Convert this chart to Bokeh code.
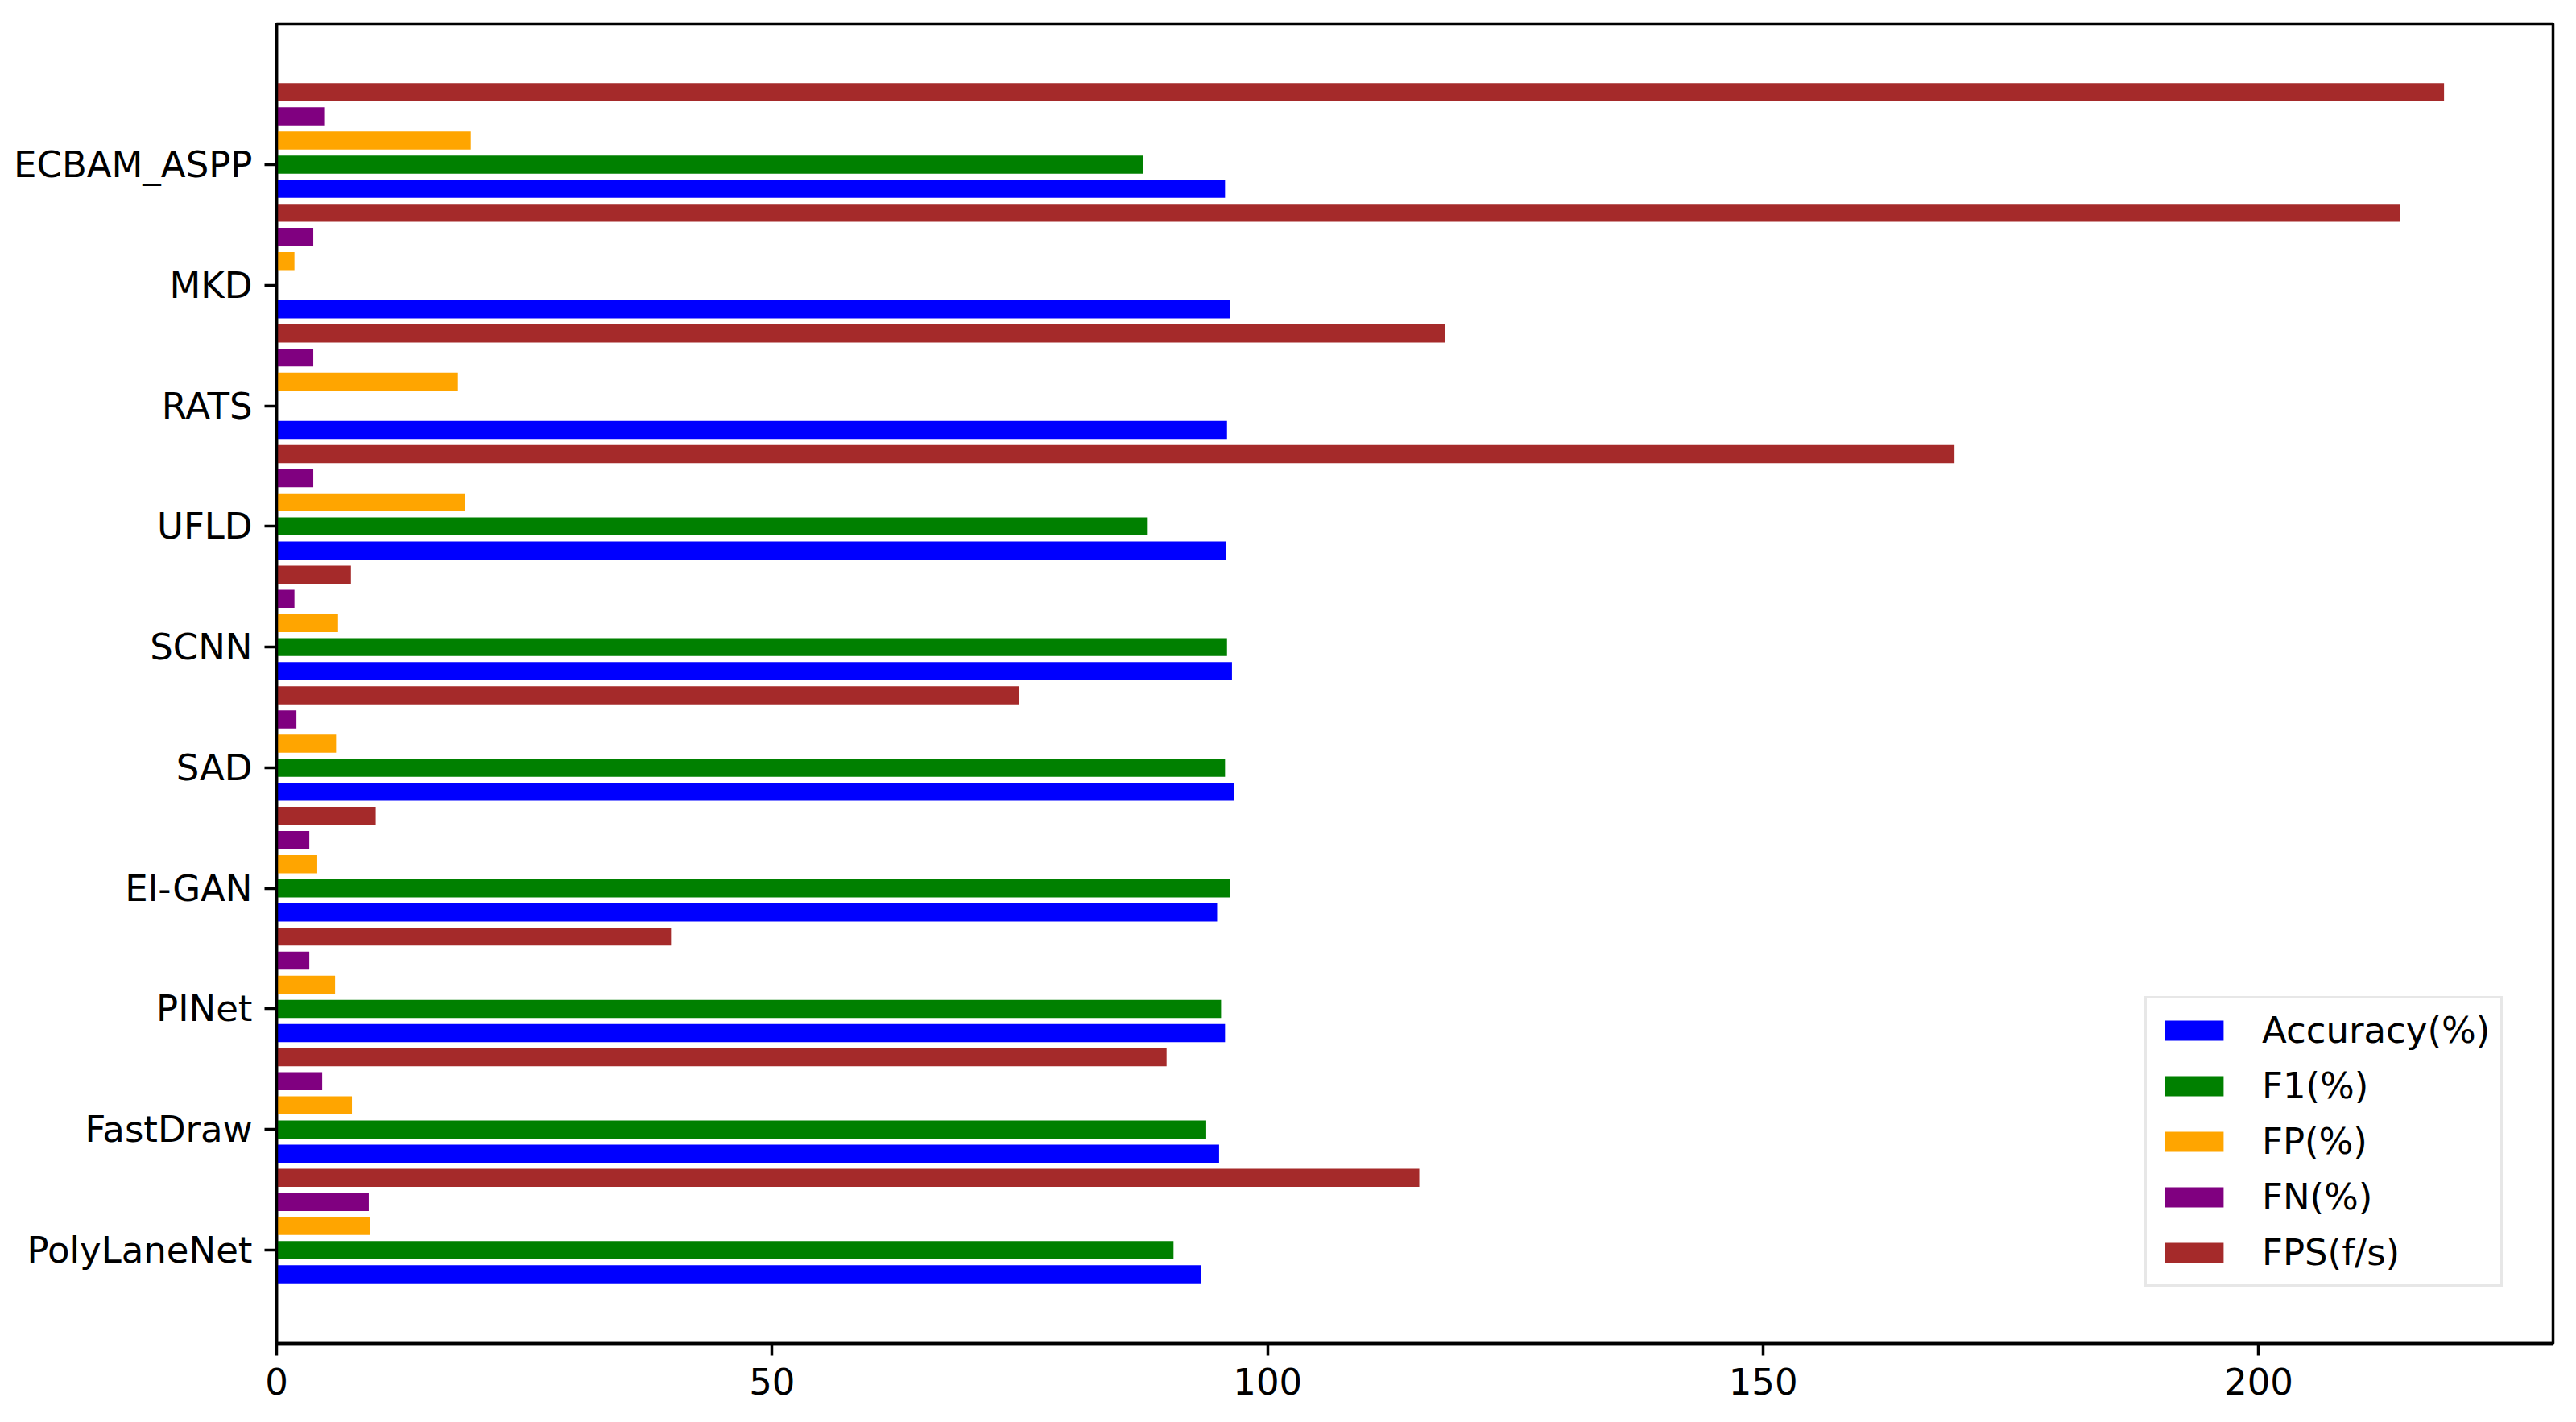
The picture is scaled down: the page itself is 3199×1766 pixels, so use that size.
from bokeh.plotting import figure
from bokeh.models import ColumnDataSource, FixedTicker, Legend, LegendItem
from bokeh.embed import file_html
from bokeh.resources import INLINE

methods = ["PolyLaneNet", "FastDraw", "PINet", "El-GAN", "SAD", "SCNN", "UFLD", "RATS", "MKD", "ECBAM_ASPP"]
accuracy = [93.3, 95.1, 95.7, 94.9, 96.6, 96.4, 95.8, 95.9, 96.2, 95.7]
f1 = [90.5, 93.8, 95.3, 96.2, 95.7, 95.9, 87.9, 0, 0, 87.4]
fp = [9.4, 7.6, 5.9, 4.1, 6.0, 6.2, 19.0, 18.3, 1.8, 19.6]
fn = [9.3, 4.6, 3.3, 3.3, 2.0, 1.8, 3.7, 3.7, 3.7, 4.8]
fps = [115.3, 89.8, 39.8, 10.0, 74.9, 7.5, 169.3, 117.9, 214.3, 218.7]
x_ticks = [0, 50, 100, 150, 200]

series_names = ["Accuracy(%)", "F1(%)", "FP(%)", "FN(%)", "FPS(f/s)"]
series_values = [accuracy, f1, fp, fn, fps]
series_colors = ["#0000ff", "#008000", "#ffa500", "#800080", "#a52a2a"]
offsets = [-0.2, 0.0, 0.2, 0.4, 0.6]
bar_h = 0.15

FONT = "DejaVu Sans"
FS = "45px"

p = figure(width=3185, height=1758, output_backend="svg", toolbar_location=None,
           x_range=(0, 229.7), y_range=(-0.774, 10.168),
           min_border_left=343, min_border_right=15, min_border_top=29, min_border_bottom=90)

items = []
for name, vals, col, off in zip(series_names, series_values, series_colors, offsets):
    src = ColumnDataSource(dict(y=[i + off for i in range(len(methods))], right=vals))
    r = p.hbar(y="y", right="right", left=0, height=bar_h, source=src,
               fill_color=col, line_color=None)
    items.append(LegendItem(label=name, renderers=[r]))

p.xgrid.visible = False
p.ygrid.visible = False
p.outline_line_color = "black"
p.outline_line_width = 3.5

p.yaxis.ticker = FixedTicker(ticks=list(range(len(methods))))
p.yaxis.major_label_overrides = {i: m for i, m in enumerate(methods)}
p.xaxis.ticker = FixedTicker(ticks=x_ticks)
for ax in (p.xaxis, p.yaxis):
    ax.major_label_text_font = FONT
    ax.major_label_text_font_size = FS
    ax.major_label_text_color = "black"
    ax.axis_line_width = 3.5
    ax.axis_line_color = "black"
    ax.major_tick_line_width = 3.5
    ax.major_tick_line_color = "black"
    ax.major_tick_out = 15
    ax.major_tick_in = 0
    ax.minor_tick_line_color = None
    ax.major_label_standoff = 15

legend = Legend(items=items, location=(2320, 70))
legend.label_text_font = FONT
legend.label_text_font_size = FS
legend.label_text_color = "black"
legend.glyph_width = 91
legend.glyph_height = 31
legend.label_standoff = 39
legend.label_height = 31
legend.spacing = 16
legend.padding = 13
legend.margin = 0
legend.border_line_color = "#d0d0d0"
legend.border_line_width = 3
legend.background_fill_alpha = 0.9
p.add_layout(legend, "center")

open("out.html", "w").write(file_html(p, INLINE))
